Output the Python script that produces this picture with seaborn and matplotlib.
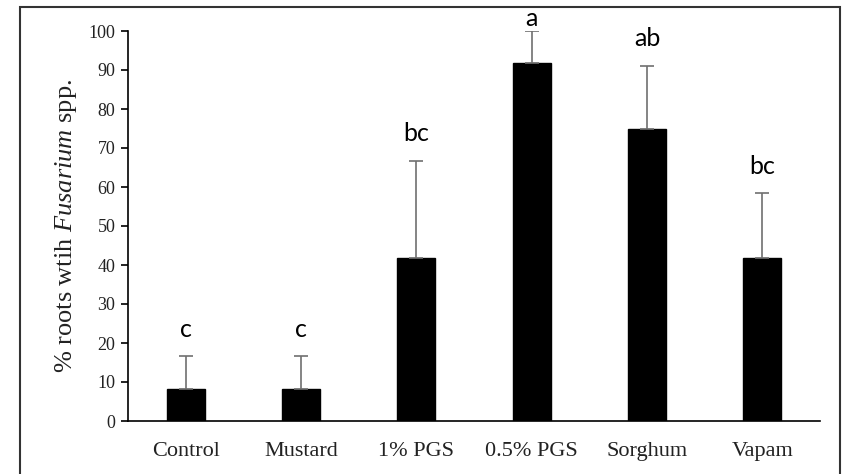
import matplotlib
matplotlib.use("Agg")
import matplotlib.pyplot as plt
from matplotlib.patches import Rectangle
import seaborn as sns
import pandas as pd

# Treatments, mean percentage of infected roots, standard error, and letter groups
treatments = ["Control", "Mustard", "1% PGS", "0.5% PGS", "Sorghum", "Vapam"]
percent_roots = [8.3, 8.3, 41.7, 91.7, 75.0, 41.7]
std_error = [8.3, 8.3, 25.0, 8.3, 16.0, 16.7]
letters = ["c", "c", "bc", "a", "ab", "bc"]

df = pd.DataFrame({"treatment": treatments, "percent": percent_roots, "se": std_error})

sns.set_theme(style="white")
plt.rcParams["font.family"] = ["Liberation Serif", "DejaVu Serif"]
plt.rcParams["mathtext.fontset"] = "custom"
plt.rcParams["mathtext.rm"] = "Liberation Serif"
plt.rcParams["mathtext.it"] = "Liberation Serif:italic"

fig = plt.figure(figsize=(8.46, 4.74), dpi=100)
ax = fig.add_axes([128 / 846, 1 - 421 / 474, (820 - 128) / 846, (421 - 31) / 474])

sns.barplot(data=df, x="treatment", y="percent", color="black", width=0.33,
            errorbar=None, ax=ax, saturation=1)
for bar in ax.patches:
    bar.set_edgecolor("black")
    bar.set_facecolor("black")

xs = range(len(treatments))
ax.errorbar(xs, df["percent"], yerr=[[0] * len(xs), df["se"]], fmt="none",
            ecolor="#707070", elinewidth=1.2, capsize=5, capthick=1.2)

for x, m, s, lab in zip(xs, percent_roots, std_error, letters):
    y = min(m + s + 4.0, 100.3)
    ax.text(x, y, lab, ha="center", va="bottom", fontsize=18,
            family=["Lato", "DejaVu Sans"], color="black")

ax.set_ylim(0, 100)
ax.set_xlim(-0.5, len(treatments) - 0.5)
ax.set_yticks(range(0, 101, 10))
ax.tick_params(axis="y", which="major", direction="out", length=5, width=1.2,
               labelsize=13, color="black", left=True, pad=4)
ax.tick_params(axis="x", length=0, labelsize=16, pad=15)
for lbl in ax.get_yticklabels() + ax.get_xticklabels():
    lbl.set_color("#222222")

ax.set_xlabel("")
ax.set_ylabel("% roots wtih $\\mathit{Fusarium}$ spp.", fontsize=19, labelpad=7,
              color="#222222")

sns.despine(ax=ax)
ax.spines["left"].set_color("black")
ax.spines["bottom"].set_color("black")
ax.spines["left"].set_linewidth(1.2)
ax.spines["bottom"].set_linewidth(1.2)

# Outer frame around the figure
frame = Rectangle((20 / 846, -0.02), (840 - 20) / 846, 1 - 7 / 474 + 0.02,
                  transform=fig.transFigure, fill=False, edgecolor="#333333",
                  linewidth=1.5, clip_on=False)
fig.patches.append(frame)

fig.savefig("out.png", dpi=100)
